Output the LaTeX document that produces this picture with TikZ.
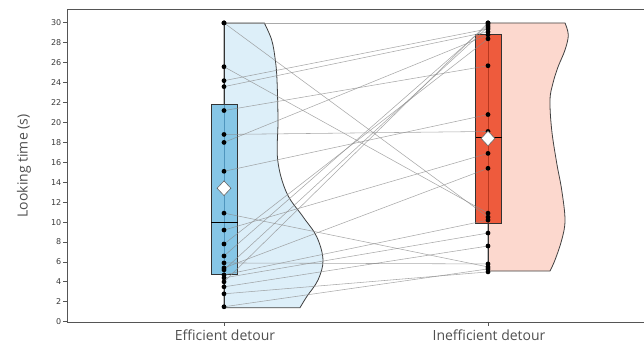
\documentclass[tikz,border=0pt]{standalone}
\usepackage{fontspec}
\setmainfont{Open Sans}
\newfontfamily\tickfont{DejaVu Sans}
\usetikzlibrary{shapes.geometric}
\pgfdeclarelayer{bg}
\pgfdeclarelayer{mid}
\pgfsetlayers{bg,mid,main}
\definecolor{effbox}{HTML}{86C6E6}
\definecolor{effline}{HTML}{4F95BD}
\definecolor{effviol}{HTML}{DDEFF9}
\definecolor{inebox}{HTML}{EE5B3D}
\definecolor{ineline}{HTML}{B8381F}
\definecolor{ineviol}{HTML}{FCD8CE}
\definecolor{axisgray}{HTML}{555555}
\definecolor{txtgray}{HTML}{3A3A3A}
\definecolor{labgray}{HTML}{505050}
\newcommand\lty[1]{321.7-9.96*(#1)}
\tikzset{
  axisline/.style={draw=axisgray, line width=0.8pt},
  ticklab/.style={font=\tickfont\fontsize{8}{9}\selectfont, text=txtgray, anchor=east, inner sep=0pt},
  catlab/.style={font=\fontsize{14}{16}\selectfont, text=labgray, inner sep=0pt},
  violin/.style={draw=black!75, line width=0.8pt},
  boxst/.style={draw=black!80, line width=0.8pt},
  pt/.style={circle, fill=black, inner sep=0pt, minimum size=4.8pt},
  meanmark/.style={diamond, draw=black!60, fill=white, line width=0.6pt, inner sep=0pt, minimum width=14pt, minimum height=15pt},
  conn/.style={draw=black!45, line width=0.55pt, opacity=0.75},
}
\begin{document}
\begin{tikzpicture}[x=1pt,y=-1pt]
\useasboundingbox (0,0) rectangle (644,345);
% axes
\draw[axisline] (644,9) -- (67,9) -- (67,322) -- (644,322);
\foreach \v in {0,2,...,30} {
  \draw[axisline] (63,{\lty{\v}}) -- (67,{\lty{\v}});
  \node[ticklab] (t\v) at (61.5,{\lty{\v}}) {\v};
}
\draw[axisline] (224,322) -- (224,326);
\draw[axisline] (488,322) -- (488,326);
\node[catlab] (xl1) at (225,335) {Efficient detour};
\node[catlab] (xl2) at (489,335) {Inefficient detour};
\node[catlab, rotate=90] (yl) at (24,166) {Looking time (s)};

\begin{pgfonlayer}{bg}
% violins
\draw[violin, fill=effviol] (224,23) -- plot[smooth, tension=0.6] coordinates {(264.3,23) (271.7,40) (275.3,60) (277,80) (278,120) (277.7,160) (286.7,193) (303,216.7) (316.7,236.7) (323,260) (318,280) (306.7,296.7) (300,307.7)} -- (224,307.7) -- cycle;
\draw[violin, fill=ineviol] (488,23) -- plot[smooth, tension=0.6] coordinates {(565,23) (568.3,35) (565,50) (558,67) (553,83) (550,100) (551.7,130) (556.7,163) (561.7,190) (565,220) (561.7,240) (555,260) (550,271)} -- (488,271) -- cycle;
% whiskers
\draw[black!80, line width=0.9pt] (224,{\lty{30}}) -- (224,{\lty{1.5}});
\draw[black!80, line width=0.9pt] (488,{\lty{30}}) -- (488,{\lty{5.0}});
% boxes
\draw[boxst, fill=effbox] (211,{\lty{21.8}}) rectangle (237.5,{\lty{4.7}});
\draw[effline, line width=0.6pt] (224,{\lty{21.8}}) -- (224,{\lty{4.7}});
\draw[black, line width=1.3pt] (211,{\lty{9.95}}) -- (237.5,{\lty{9.95}});
\draw[boxst, fill=inebox] (475.5,{\lty{28.8}}) rectangle (501.5,{\lty{9.9}});
\draw[ineline, line width=0.6pt] (488,{\lty{28.8}}) -- (488,{\lty{9.9}});
\draw[black, line width=1.3pt] (475.5,{\lty{18.5}}) -- (501.5,{\lty{18.5}});
\end{pgfonlayer}

% points
\foreach \n/\v in {1/30,2/30,3/25.6,4/24.2,5/23.6,6/21.2,7/18.8,8/18.0,9/15.1,10/10.9,11/9.2,12/7.8,13/6.6,14/5.9,15/5.4,16/5.2,17/4.7,18/4.4,19/4.0,20/3.5,21/2.8,22/1.5} {
  \node[pt] (e\n) at (224,{\lty{\v}}) {};
}
\foreach \n/\v in {1/30,2/10.5,3/10.9,4/29.4,5/29.1,6/25.7,7/19.1,8/28.8,9/20.8,10/5.5,11/16.9,12/28.4,13/29.8,14/5.8,15/15.4,16/29.6,17/10.2,18/8.9,19/30,20/7.6,21/5.0,22/5.3} {
  \node[pt] (i\n) at (488,{\lty{\v}}) {};
}
\begin{pgfonlayer}{mid}
\foreach \n in {1,...,22} {
  \draw[conn] (e\n.center) -- (i\n.center);
}
\end{pgfonlayer}
% means
\node[meanmark] (m1) at (224,{\lty{13.4}}) {};
\node[meanmark] (m2) at (488,{\lty{18.4}}) {};
\end{tikzpicture}
\end{document}
